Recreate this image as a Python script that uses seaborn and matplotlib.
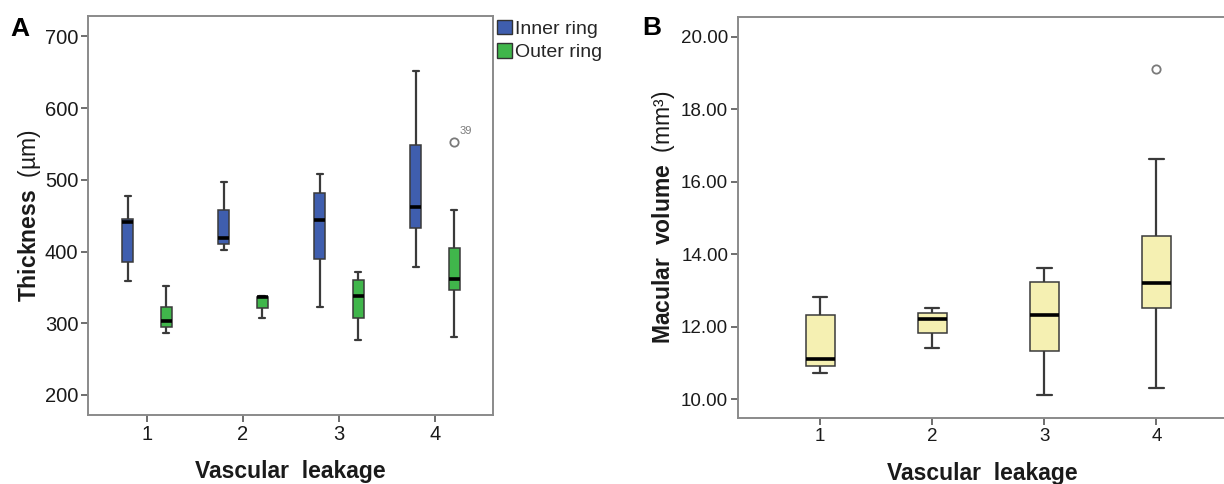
import numpy as np
import pandas as pd
import matplotlib
matplotlib.use("Agg")
import matplotlib.pyplot as plt
import seaborn as sns
from matplotlib.patches import Patch
from matplotlib.ticker import FormatStrFormatter

# ---------------- data ----------------
leakage = ["1", "2", "3", "4"]
rings = ["Inner ring", "Outer ring"]

# Panel A: thickness (µm), five-number summaries per leakage grade
inner_low  = [359, 402, 322, 378]
inner_q1   = [386, 411, 390, 433]
inner_med  = [441, 419, 444, 462]
inner_q3   = [445, 458, 481, 549]
inner_high = [477, 497, 508, 652]
inner_outlier = [None, None, None, None]

outer_low  = [286, 307, 277, 281]
outer_q1   = [295, 321, 307, 346]
outer_med  = [303, 336, 338, 362]
outer_q3   = [323, 337, 360, 405]
outer_high = [352, 338, 372, 458]
outer_outlier = [None, None, None, 553]
outer_outlier_id = [None, None, None, "39"]

# Panel B: macular volume (mm³)
vol_low  = [10.73, 11.42, 10.12, 10.32]
vol_q1   = [10.91, 11.82, 11.32, 12.51]
vol_med  = [11.12, 12.21, 12.33, 13.21]
vol_q3   = [12.32, 12.38, 13.24, 14.51]
vol_high = [12.82, 12.51, 13.61, 16.62]
vol_outlier = [None, None, None, 19.10]

y_ticks_a = [200, 300, 400, 500, 600, 700]
y_ticks_b = [10, 12, 14, 16, 18, 20]


def box_sample(lo, q1, md, q3, hi, out):
    """Observations whose quartiles/whiskers reproduce the summary."""
    if out is None:
        return [lo, q1, md, q3, hi]
    return [lo, q1, q1, md, md, md, q3, hi, out]


rows_a = []
for i, lev in enumerate(leakage):
    for v in box_sample(inner_low[i], inner_q1[i], inner_med[i], inner_q3[i],
                        inner_high[i], inner_outlier[i]):
        rows_a.append((lev, rings[0], v))
    for v in box_sample(outer_low[i], outer_q1[i], outer_med[i], outer_q3[i],
                        outer_high[i], outer_outlier[i]):
        rows_a.append((lev, rings[1], v))
df_a = pd.DataFrame(rows_a, columns=["leakage", "ring", "thickness"])

rows_b = []
for i, lev in enumerate(leakage):
    for v in box_sample(vol_low[i], vol_q1[i], vol_med[i], vol_q3[i],
                        vol_high[i], vol_outlier[i]):
        rows_b.append((lev, v))
df_b = pd.DataFrame(rows_b, columns=["leakage", "volume"])

# ---------------- style ----------------
sns.set_style("ticks")
plt.rcParams["font.family"] = ["Liberation Sans", "DejaVu Sans"]
plt.rcParams["mathtext.fontset"] = "custom"
plt.rcParams["mathtext.rm"] = "Liberation Sans"
plt.rcParams["mathtext.bf"] = "Liberation Sans:bold"
plt.rcParams["mathtext.it"] = "Liberation Sans:italic"

blue = "#3f5eae"
green = "#40b64b"
yellow = "#f5f0b2"
spine_col = "#8a8a8a"
line_col = "#3a3a3a"
text_col = "#1a1a1a"

fig = plt.figure(figsize=(12.24, 4.84), dpi=100)

common = dict(
    saturation=1,
    linecolor=line_col,
    linewidth=1.1,
    medianprops=dict(color="black", linewidth=2.6),
    whiskerprops=dict(color=line_col, linewidth=1.6),
    capprops=dict(color=line_col, linewidth=1.6),
    flierprops=dict(marker="o", markerfacecolor="none", markeredgecolor="#7a7a7a",
                    markersize=6, markeredgewidth=1.3),
)

# ---------------- Panel A ----------------
axA = fig.add_axes([0.0719, 0.1426, 0.3309, 0.825])
sns.boxplot(data=df_a, x="leakage", y="thickness", hue="ring",
            order=leakage, hue_order=rings, palette=[blue, green],
            width=0.8, gap=0.71, legend=False, ax=axA, **common)
axA.set_xlim(-0.615, 3.604)
axA.set_ylim(172, 729)
axA.set_yticks(y_ticks_a)
axA.set_xlabel("Vascular  leakage", fontsize=16.5, fontweight="bold",
               color=text_col, labelpad=12)
axA.set_ylabel(r"$\mathbf{Thickness}$  (µm)", fontsize=16.5, color=text_col,
               labelpad=1)

handles = [Patch(facecolor=blue, edgecolor="#333333", linewidth=1),
           Patch(facecolor=green, edgecolor="#333333", linewidth=1)]
axA.legend(handles, rings, loc="upper left", bbox_to_anchor=(1.0, 1.0),
           frameon=False, fontsize=14, handlelength=0.8, handleheight=0.8,
           handletextpad=0.15, borderaxespad=0, borderpad=0.2,
           labelspacing=0.25)

for i, lab in enumerate(outer_outlier_id):
    if lab is not None:
        axA.annotate(lab, xy=(i + 0.2, outer_outlier[i]), xytext=(4, 4),
                     textcoords="offset points", fontsize=8, color="#7a7a7a",
                     ha="left", va="bottom")

# ---------------- Panel B ----------------
axB = fig.add_axes([0.6029, 0.1357, 0.3987, 0.8298])
sns.boxplot(data=df_b, x="leakage", y="volume", order=leakage, color=yellow,
            width=0.254, ax=axB, **common)
axB.set_xlim(-0.735, 3.62)
axB.set_ylim(9.47, 20.55)
axB.set_yticks(y_ticks_b)
axB.yaxis.set_major_formatter(FormatStrFormatter("%.2f"))
axB.set_xlabel("Vascular  leakage", fontsize=16.5, fontweight="bold",
               color=text_col, labelpad=12)
axB.set_ylabel(r"$\mathbf{Macular\ \ volume}$  (mm³)", fontsize=16.5,
               color=text_col, labelpad=3)

for ax, ls in ((axA, 14.5), (axB, 13.5)):
    for s in ax.spines.values():
        s.set_visible(True)
        s.set_color(spine_col)
        s.set_linewidth(1.4)
    ax.tick_params(direction="out", length=5, width=1.2, color="#555555",
                   labelsize=ls, labelcolor=text_col, pad=2)

fig.text(0.0082, 0.9256, "A", fontsize=19, fontweight="bold", color="black",
         ha="left", va="baseline")
fig.text(0.5245, 0.9277, "B", fontsize=19, fontweight="bold", color="black",
         ha="left", va="baseline")

fig.savefig("out.png", dpi=100)
